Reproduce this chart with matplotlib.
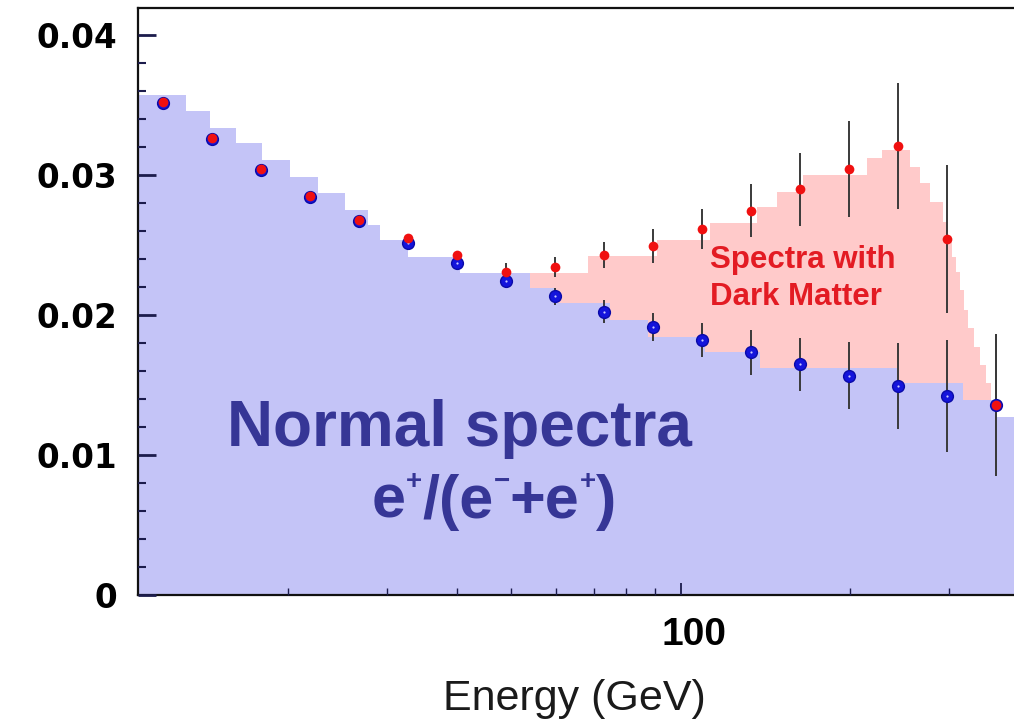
import numpy as np
import matplotlib
matplotlib.use('Agg')
import matplotlib.pyplot as plt
from matplotlib.ticker import MultipleLocator, NullFormatter
from matplotlib.transforms import ScaledTranslation, IdentityTransform

# Energy of the measured points [GeV]
energy = [12.0, 14.7, 17.9, 21.9, 26.8, 32.7, 40.0, 48.9, 59.7, 73.0,
          89.2, 109.0, 133.2, 162.8, 198.9, 243.1, 297.1, 363.1]

# Normal spectra points (blue) and their errors
normal = [0.03512, 0.03257, 0.03039, 0.02845, 0.02671, 0.02516, 0.02374, 0.02243, 0.02134,
          0.02024, 0.01917, 0.01821, 0.01734, 0.01648, 0.01567, 0.01493, 0.01424, 0.01357]
normal_err = [0.0001, 0.0001, 0.0001, 0.00015, 0.0002, 0.0002, 0.0003, 0.0004, 0.0006,
              0.0008, 0.0010, 0.0012, 0.0016, 0.0019, 0.0024, 0.0031, 0.0040, 0.0051]

# Spectra with dark matter (red) and their errors
dark = [0.03520, 0.03264, 0.03043, 0.02850, 0.02679, 0.02548, 0.02429, 0.02305, 0.02341,
        0.02429, 0.02495, 0.02614, 0.02745, 0.02898, 0.03043, 0.03207, 0.02541, 0.01357]
dark_err = [0.0001, 0.0001, 0.0001, 0.0001, 0.00015, 0.0002, 0.0003, 0.00065, 0.0007,
            0.0009, 0.0012, 0.0014, 0.0019, 0.0026, 0.0034, 0.0045, 0.0053, 0.0051]

# Model histograms (bin edges in GeV, heights)
normal_edges = [10.84, 13.20, 14.56, 16.20, 18.01, 20.20, 22.66, 25.31, 27.81, 29.20, 32.75,
                40.51, 53.96, 60.01, 74.88, 87.47, 110.5, 138.4, 242.4, 317.7, 365.1, 396.2]
normal_hist = [0.03571, 0.03457, 0.03336, 0.03229, 0.03107, 0.02986, 0.02871, 0.02750,
               0.02643, 0.02536, 0.02414, 0.02300, 0.02193, 0.02086, 0.01964, 0.01843,
               0.01736, 0.01621, 0.01514, 0.01393, 0.01271]

dark_edges = [40.51, 68.43, 90.76, 112.7, 136.6, 148.3, 165.0, 214.4, 228.0, 255.7, 266.4,
              277.5, 292.7, 298.7, 303.6, 308.6, 313.7, 318.9, 324.2, 332.2, 340.5, 349.0,
              356.2, 365.1]
dark_hist = [0.02300, 0.02421, 0.02536, 0.02657, 0.02771, 0.02879, 0.03000, 0.03121, 0.03179,
             0.03057, 0.02943, 0.02807, 0.02664, 0.02536, 0.02414, 0.02307, 0.02179, 0.02036,
             0.01907, 0.01771, 0.01643, 0.01514, 0.01393]

yticks = [0, 0.01, 0.02, 0.03, 0.04]
ytick_labels = ['0', '0.01', '0.02', '0.03', '0.04']
xminor = [20, 30, 40, 50, 60, 70, 80, 90, 200, 300]

# pieces of the ratio label: (text, is_superscript)
ratio_pieces = [('e', False), ('+', True), ('/(e', False), ('\u2212', True),
                ('+e', False), ('+', True), (')', False)]

fig = plt.figure(figsize=(10.14, 7.2), dpi=100)
ax = fig.add_axes([138 / 1014, 125 / 720, (1017 - 138) / 1014, 587 / 720])
ax.set_axisbelow(False)

# filled histograms
ax.stairs(dark_hist, dark_edges, baseline=0, fill=True, color='#ffcaca', zorder=1)
ax.stairs(normal_hist, normal_edges, baseline=0, fill=True, color='#c4c4f7', zorder=1.2)

# error bars
ax.errorbar(energy, dark, yerr=dark_err, fmt='none', ecolor='#3a3a3a', elinewidth=1.4, zorder=3)
ax.errorbar(energy, normal, yerr=normal_err, fmt='none', ecolor='#3a3a3a', elinewidth=1.4, zorder=3)

# markers
ax.plot(energy, normal, 'o', ms=8.5, color='#1414dc', mec='#0a0aa8', mew=1.0, zorder=4)
ax.plot(energy, normal, 'o', ms=1.6, color='#c8c8ff', mew=0, zorder=5)
ax.plot(energy, dark, 'o', ms=7.0, color='#f01010', mew=0, zorder=6)

ax.set_xscale('log')
ax.set_xlim(10.84, 396.2)
ax.set_ylim(0, 0.04193)

# axes styling
for side in ['top', 'left', 'bottom']:
    ax.spines[side].set_linewidth(1.6)
    ax.spines[side].set_color('#111111')
ax.spines['right'].set_visible(False)

ax.set_yticks(yticks)
ax.set_yticklabels(ytick_labels)
ax.yaxis.set_minor_locator(MultipleLocator(0.002))
ax.tick_params(axis='y', which='major', direction='in', length=13, width=2.0,
               color='#1c1c4c', pad=15, labelsize=23.5)
ax.tick_params(axis='y', which='minor', direction='in', length=6, width=1.5, color='#1c1c4c')
for lab in ax.get_yticklabels():
    lab.set_fontfamily('DejaVu Sans')
    lab.set_fontweight('bold')

ax.set_xticks([100])
ax.set_xticklabels(['100'])
ax.set_xticks(xminor, minor=True)
ax.xaxis.set_minor_formatter(NullFormatter())
ax.tick_params(axis='x', which='major', direction='in', length=9, width=1.3,
               color='#1c1c4c', pad=16, labelsize=28)
ax.tick_params(axis='x', which='minor', direction='in', length=5, width=1.0, color='#1c1c4c')
offset = ScaledTranslation(13 / 100, 0, fig.dpi_scale_trans)
for lab in ax.get_xticklabels():
    lab.set_fontfamily('Liberation Sans')
    lab.set_fontweight('bold')
    lab.set_transform(lab.get_transform() + offset)

ax.set_xlabel('Energy (GeV)', fontsize=31, fontfamily='Liberation Sans', color='#1a1a1a')
ax.xaxis.set_label_coords(0.496, -0.143)

# annotations
text_blue = '#363696'
ax.text(0.3658, 0.2538, 'Normal spectra', transform=ax.transAxes, ha='center', va='baseline',
        fontsize=46, fontweight='bold', color=text_blue, family='Liberation Sans')

# ratio label built piece by piece so the superscripts stay small
renderer = fig.canvas.get_renderer()
base_y = 720 - 518
sup_rise = 29
parts = []
total = 0
for s, sup in ratio_pieces:
    t = ax.text(0, 0, s, transform=IdentityTransform(), ha='left', va='baseline',
                fontsize=20 if sup else 44, fontweight='bold', color=text_blue,
                family='Liberation Sans')
    w = t.get_window_extent(renderer).width
    parts.append((t, sup, w))
    total += w
x = 494 - total / 2
for t, sup, w in parts:
    t.set_position((x, base_y + (sup_rise if sup else 0)))
    x += w

ax.text(0.6507, 0.557, 'Spectra with', transform=ax.transAxes, ha='left', va='baseline',
        fontsize=22.5, fontweight='bold', color='#e31b23', family='Liberation Sans')
ax.text(0.6507, 0.494, 'Dark Matter', transform=ax.transAxes, ha='left', va='baseline',
        fontsize=22.5, fontweight='bold', color='#e31b23', family='Liberation Sans')

fig.savefig('out.png', dpi=100)
